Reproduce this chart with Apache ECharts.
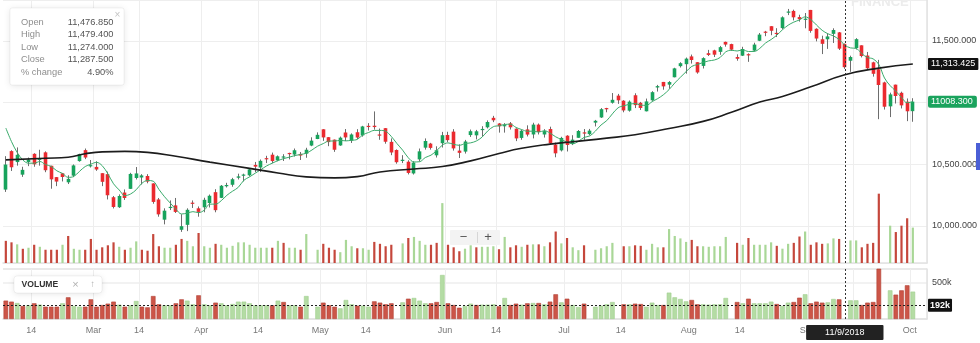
<!DOCTYPE html>
<html><head><meta charset="utf-8">
<script src="https://cdn.jsdelivr.net/npm/echarts@6/dist/echarts.min.js"></script>
<style>html,body{margin:0;padding:0;background:#fff}#c{width:980px;height:343px}</style>
</head><body><div id="c"></div>
<script>
const dates = [
'6/2/2018','7/2/2018','8/2/2018','9/2/2018','12/2/2018','14/2/2018','15/2/2018','16/2/2018','19/2/2018','20/2/2018','21/2/2018','22/2/2018','23/2/2018','26/2/2018','27/2/2018','28/2/2018',
'1/3/2018','5/3/2018','6/3/2018','7/3/2018','8/3/2018','9/3/2018','12/3/2018','13/3/2018','14/3/2018','15/3/2018','16/3/2018','19/3/2018','20/3/2018','21/3/2018','22/3/2018','23/3/2018','26/3/2018','27/3/2018','28/3/2018',
'2/4/2018','3/4/2018','4/4/2018','5/4/2018','6/4/2018','9/4/2018','10/4/2018','11/4/2018','12/4/2018','13/4/2018','16/4/2018','17/4/2018','18/4/2018','19/4/2018','20/4/2018','23/4/2018','24/4/2018','25/4/2018','26/4/2018','27/4/2018','30/4/2018',
'2/5/2018','3/5/2018','4/5/2018','7/5/2018','8/5/2018','9/5/2018','10/5/2018','11/5/2018','14/5/2018','15/5/2018','16/5/2018','17/5/2018','18/5/2018','21/5/2018','22/5/2018','23/5/2018','24/5/2018','25/5/2018','28/5/2018','29/5/2018','30/5/2018','31/5/2018',
'1/6/2018','4/6/2018','5/6/2018','6/6/2018','7/6/2018','8/6/2018','11/6/2018','12/6/2018','13/6/2018','14/6/2018','15/6/2018','18/6/2018','19/6/2018','20/6/2018','21/6/2018','22/6/2018','25/6/2018','26/6/2018','27/6/2018','28/6/2018','29/6/2018',
'2/7/2018','3/7/2018','4/7/2018','5/7/2018','6/7/2018','9/7/2018','10/7/2018','11/7/2018','12/7/2018','13/7/2018','16/7/2018','17/7/2018','18/7/2018','19/7/2018','20/7/2018','23/7/2018','24/7/2018','25/7/2018','26/7/2018','27/7/2018','30/7/2018','31/7/2018',
'1/8/2018','2/8/2018','3/8/2018','6/8/2018','7/8/2018','8/8/2018','9/8/2018','10/8/2018','13/8/2018','14/8/2018','16/8/2018','17/8/2018','20/8/2018','21/8/2018','23/8/2018','24/8/2018','27/8/2018','28/8/2018','29/8/2018','30/8/2018','31/8/2018',
'3/9/2018','4/9/2018','5/9/2018','6/9/2018','7/9/2018','10/9/2018','11/9/2018','12/9/2018','14/9/2018','17/9/2018','18/9/2018','19/9/2018','21/9/2018','24/9/2018','25/9/2018','26/9/2018','27/9/2018','28/9/2018',
'1/10/2018'];

const open = [
10295,10607,10518,10416,10519,10585,10537,10597,10488,10396,
10427,10354,10408,10526,10615,10488,10479,10428,10420,10233,
10152,10271,10301,10389,10393,10405,10345,10215,10051,10147,
10167,9969,10009,10189,10143,10151,10186,10274,10228,10322,
10334,10391,10410,10411,10495,10474,10550,10578,10532,10560,
10592,10579,10584,10586,10652,10705,10784,10720,10700,10653,
10758,10692,10760,10734,10812,10813,10742,10793,10682,10616,
10528,10521,10426,10540,10635,10668,10573,10671,10738,10765,
10611,10603,10737,10735,10781,10800,10877,10831,10809,10832,
10789,10714,10783,10742,10822,10742,10786,10660,10613,10732,
10665,10715,10759,10745,10838,10880,10956,10999,11057,11016,
10935,11060,10999,10930,11019,11123,11168,11146,11206,11296,
11312,11375,11328,11298,11401,11424,11412,11493,11475,11370,
11381,11393,11422,11502,11576,11620,11566,11605,11731,11744,
11694,11675,11752,11599,11514,11514,11558,11570,11476.85,11340,
11443,11465,11382,11327,11271,11164,10970,11146,11080,11008,
10931];

const high = [
10566,10614,10637,10480,10555,10590,10618,10605,10489,10397,
10429,10411,10499,10586,10628,10535,10525,10428,10441,10243,
10256,10296,10431,10478,10420,10420,10346,10227,10143,10207,
10227,10095,10143,10207,10158,10229,10255,10298,10332,10350,
10390,10424,10424,10469,10519,10539,10569,10595,10572,10582,
10594,10628,10600,10634,10719,10759,10785,10721,10701,10725,
10786,10751,10785,10812,10834,10929,10790,10794,10710,10621,
10574,10533,10525,10628,10710,10674,10646,10763,10764,10785,
10662,10698,10782,10779,10809,10856,10893,10835,10834,10843,
10792,10781,10816,10837,10831,10785,10805,10676,10723,10736,
10736,10778,10786,10787,10860,10956,10958,11078,11071,11020,
11018,11076,11006,11033,11093,11144,11168,11175,11283,11328,
11366,11390,11328,11368,11428,11429,11460,11495,11478,11392,
11453,11400,11486,11565,11582,11620,11604,11700,11760,11754,
11713,11727,11752,11603,11543,11562,11603,11573,11479.4,11381,
11523,11465,11411,11332,11347,11170,11081,11146,11089,11034,
11036];

const low = [
10276,10446,10489,10398,10485,10480,10489,10436,10302,10323,
10361,10340,10396,10521,10542,10474,10447,10323,10215,10142,
10146,10211,10300,10377,10336,10346,10180,10075,10013,10129,
10105,9952,9958,10146,10075,10111,10150,10111,10226,10312,
10318,10377,10361,10402,10436,10437,10510,10509,10525,10527,
10540,10563,10535,10553,10647,10704,10690,10647,10601,10650,
10689,10673,10705,10724,10774,10781,10699,10667,10574,10505,
10510,10418,10417,10522,10619,10619,10555,10636,10681,10611,
10551,10587,10722,10702,10725,10791,10842,10757,10757,10782,
10688,10699,10726,10710,10742,10717,10660,10557,10604,10604,
10656,10715,10699,10735,10807,10876,10922,10992,10990,10922,
10927,10956,10941,10929,11015,11090,11105,11113,11205,11285,
11235,11317,11235,11277,11378,11370,11388,11454,11420,11340,
11378,11331,11416,11499,11539,11547,11532,11595,11710,11667,
11657,11603,11567,11497,11394,11436,11484,11427,11274,11250,
11431,11367,11269,11211,10866,10944,10883,10993,10953,10850,
10845];

const close = [
10498,10476,10577,10455,10539,10500,10545,10452,10378,10360,
10397,10382,10491,10583,10555,10493,10458,10358,10249,10154,
10243,10227,10422,10426,10410,10360,10195,10094,10124,10155,
10114,9998,10131,10184,10114,10212,10245,10128,10326,10332,
10379,10402,10417,10459,10481,10528,10549,10526,10565,10564,
10585,10614,10571,10618,10692,10739,10718,10680,10618,10716,
10718,10742,10717,10807,10807.5,10802,10741,10683,10596,10517,
10537,10430,10514,10605,10689,10633,10614,10736,10696,10629,
10593,10685,10768.35,10767.65,10787,10843,10857,10808,10818,10800,
10710,10772,10741,10822,10762,10769,10671,10589,10714,10657,
10700,10770,10750,10773,10853,10947,10948,11023,11019,10937,
11008,10980,10957,11010,11085,11134,11132,11167,11278,11320,
11357,11346,11245,11361,11387,11389,11450,11471,11430,11356,
11435,11385,11471,11552,11571,11583,11557,11692,11739,11692,
11677,11681,11582,11520,11477,11537,11589,11438,11287.5,11370,
11515,11378,11279,11234,11143,10967,11067,11054,10978,10930,
11008.3];

// volume in thousands (null = no bar in the picture)
const volume = [
255,241,222,180,190,218,199,171,171,171,
218,301,180,171,171,273,171,194,213,241,
199,171,190,250,171,162,319,204,190,190,
218,273,255,204,329,204,190,227,218,190,
208,241,241,218,190,190,190,190,255,236,
190,190,171,319,null,171,227,190,171,148,
264,204,185,185,171,245,227,204,218,null,
231,282,292,255,218,218,236,611,218,194,
157,181,213,194,199,199,204,176,292,194,
213,199,218,222,222,204,241,343,231,282,
194,167,213,null,171,185,204,236,null,204,
204,213,208,171,227,194,194,366,301,278,
245,264,204,204,199,204,204,292,null,236,
218,282,218,218,218,241,208,181,227,236,
296,343,218,241,227,231,278,273,null,259,
259,194,227,236,700,null,398,338,398,468,
380];

// short moving average (green line), one value per candle
const ma5 = [
10794,10684,10596,10535,10509,10509,10523,10498,10483,10447,
10426,10394,10402,10443,10482,10501,10516,10489,10423,10342,
10292,10246,10259,10294,10346,10369,10363,10297,10237,10186,
10136,10097,10104,10116,10108,10128,10177,10177,10205,10249,
10282,10313,10371,10398,10428,10457,10487,10509,10530,10546,
10558,10571,10580,10590,10616,10647,10668,10689,10689,10694,
10690,10695,10702,10740,10758,10775,10775,10768,10726,10668,
10615,10553,10519,10521,10555,10574,10611,10655,10674,10662,
10654,10668,10674,10689,10720,10770,10805,10813,10823,10825,
10799,10782,10768,10769,10761,10773,10753,10723,10701,10680,
10666,10686,10718,10730,10769,10819,10854,10909,10958,10975,
10987,10993,10980,10978,11008,11033,11064,11106,11159,11206,
11251,11294,11309,11326,11339,11346,11366,11412,11425,11419,
11428,11415,11415,11440,11483,11512,11547,11591,11628,11653,
11671,11696,11674,11630,11587,11559,11541,11512,11466,11444,
11440,11398,11366,11355,11310,11200,11138,11093,11042,10999,
11007];

// long moving average (black line), read at these candle positions
const ma50Idx = [0,7,11,14,17,21,25,30,36,43,48,53,58,62,66,72,77,82,87,91,96,100,106,111,117,123,128,133,137,142,148,154,160];
const ma50Val = [10536,10549,10557,10585,10601,10605,10597,10565,10518,10467,10430,10398,10390,10400,10438,10462,10482,10528,10588,10630,10664,10683,10712,10740,10790,10848,10922,11005,11050,11128,11226,11280,11313.425];

const tickIdx = [5,16,24,35,45,56,64,78,87,99,109,121,130,142,150,160];
const tickText = ['14','Mar','14','Apr','14','May','14','Jun','14','Jul','14','Aug','14','Sep','14','Oct'];

const crossIdx = 148;
const cursorVolume = 192;
const pctChangeText = '4.90%';

const FONT = '"Liberation Sans", Arial, Helvetica, sans-serif';
const UP = '#17a35c', DOWN = '#eb2a2f';
const VUP = '#a9d797', VDOWN = '#c5473c';
const BUP = '#b4dca4', BDOWN = '#cc5548';
const NOLINE = 'rgba(0,0,0,0)';

const cats = dates.concat(['pad-a', 'pad-b']);
const tickSet = new Set(tickIdx);
const tickMap = {}; tickIdx.forEach((k, j) => tickMap[k] = tickText[j]);
const isTick = (idx) => tickSet.has(idx);

function volColor(i, up, down) {
  if (i === 0) return down;
  return close[i] >= close[i - 1] ? up : down;
}
const volMain = volume.map((v, i) => v === null ? null : { value: v, itemStyle: { color: volColor(i, VUP, VDOWN) } });
const volBottom = volume.map((v, i) => v === null ? null : { value: v, itemStyle: { color: volColor(i, BUP, BDOWN), borderColor: volColor(i, '#9fce8d', '#b23f34'), borderWidth: 0.6 } });
const candleData = open.map((o, i) => [i, o, close[i], low[i], high[i]]);
const ma50Data = ma50Idx.map((k, j) => [k, ma50Val[j]]);

function fmt3(v) { return v.toLocaleString('en-US', { minimumFractionDigits: 3, maximumFractionDigits: 3 }); }

function renderCandle(params, api) {
  const i = api.value(0), o = api.value(1), c = api.value(2), l = api.value(3), h = api.value(4);
  const po = api.coord([i, o]), pc = api.coord([i, c]), pl = api.coord([i, l]), ph = api.coord([i, h]);
  const wx = Math.round(po[0] - 0.5) + 0.5;
  const w = 3.6;
  const top = Math.min(po[1], pc[1]);
  const bh = Math.max(Math.abs(po[1] - pc[1]), 1.2);
  return {
    type: 'group',
    children: [
      { type: 'line', shape: { x1: wx, y1: ph[1], x2: wx, y2: pl[1] }, style: { stroke: '#6d6d6d', lineWidth: 1 } },
      { type: 'rect', shape: { x: wx - w / 2, y: top, width: w, height: bh }, style: { fill: c >= o ? UP : DOWN } }
    ]
  };
}

const chart = echarts.init(document.getElementById('c'), null, { renderer: 'canvas' });
const gridLine = '#eeeeee';
const borderLine = '#e2e2e2';
const txt = (text, x, y, opt) => Object.assign({ type: 'text', z: 100, style: Object.assign({ text, x, y, fill: '#888', fontSize: 9.3, fontFamily: FONT, textAlign: 'left', textVerticalAlign: 'middle', align: 'left', verticalAlign: 'middle' }, opt || {}) });

const tipRows = [
  ['Open', fmt3(open[crossIdx])],
  ['High', fmt3(high[crossIdx])],
  ['Low', fmt3(low[crossIdx])],
  ['Close', fmt3(close[crossIdx])],
  ['% change', pctChangeText]
];
const tipY = [22.3, 34.8, 47.2, 59.7, 72.2];
const graphicEls = [
  { type: 'rect', z: 99, shape: { x: 10, y: 8, width: 114, height: 77, r: 2 }, style: { fill: '#fff', stroke: 'rgba(0,0,0,0.05)', lineWidth: 1, shadowBlur: 7, shadowColor: 'rgba(0,0,0,0.10)', shadowOffsetY: 1 } },
  txt('\u00d7', 117.5, 15.5, { fill: '#c4c4c4', fontSize: 10, textAlign: 'center', align: 'center' })
];
tipRows.forEach((r, j) => {
  graphicEls.push(txt(r[0], 21, tipY[j], { fill: '#8e8e8e' }));
  graphicEls.push(txt(r[1], 113.5, tipY[j], { fill: '#555', textAlign: 'right', align: 'right' }));
});
graphicEls.push(
  { type: 'rect', z: 99, shape: { x: 14, y: 276, width: 88, height: 17, r: 3 }, style: { fill: '#fff', stroke: 'rgba(0,0,0,0.05)', shadowBlur: 6, shadowColor: 'rgba(0,0,0,0.10)', shadowOffsetY: 1 } },
  txt('VOLUME', 21.5, 284.7, { fill: '#333', fontSize: 8.6, fontWeight: 'bold' }),
  txt('\u00d7', 75.5, 284.5, { fill: '#b0b0b0', fontSize: 11, textAlign: 'center', align: 'center' }),
  txt('\u2191', 92.5, 284.5, { fill: '#b0b0b0', fontSize: 9.5, textAlign: 'center', align: 'center' }),
  { type: 'rect', z: 99, shape: { x: 450, y: 230, width: 50, height: 15, r: 1 }, style: { fill: 'rgba(242,242,242,0.95)' } },
  { type: 'line', z: 100, shape: { x1: 477.5, y1: 232, x2: 477.5, y2: 243 }, style: { stroke: '#d6d6d6', lineWidth: 1 } },
  txt('\u2212', 463.5, 237.5, { fill: '#555', fontSize: 13, textAlign: 'center', align: 'center' }),
  txt('+', 488, 237.5, { fill: '#555', fontSize: 13, textAlign: 'center', align: 'center' }),
  txt('FINANCE', 851, 2, { fill: '#ececec', fontSize: 13, fontWeight: 'bold' }),
  { type: 'rect', z: 100, shape: { x: 976, y: 143, width: 4, height: 27 }, style: { fill: '#4b5fd6' } }
);

const option = {
  animation: false,
  backgroundColor: '#fff',
  textStyle: { fontFamily: FONT },
  grid: [
    { left: 3, right: 53, top: 0, height: 263, outerBoundsMode: 'none', containLabel: false },
    { left: 3, right: 53, top: 269, height: 50, outerBoundsMode: 'none', containLabel: false }
  ],
  xAxis: [
    {
      type: 'category', gridIndex: 0, data: cats, boundaryGap: true,
      axisLine: { show: true, lineStyle: { color: borderLine, width: 1.5 } },
      axisTick: { show: false, interval: isTick },
      axisLabel: { show: false, interval: isTick },
      splitLine: { show: true, interval: isTick, lineStyle: { color: gridLine, width: 1 } }
    },
    {
      type: 'category', gridIndex: 1, data: cats, boundaryGap: true,
      axisLine: { show: true, lineStyle: { color: borderLine, width: 1.5 } },
      axisTick: { show: false, interval: isTick },
      axisLabel: {
        show: true, interval: isTick, formatter: (v, idx) => tickMap[idx] || '',
        fontSize: 9, color: '#777', margin: 7, padding: [0, 6, 0, 0], fontFamily: FONT, hideOverlap: false
      },
      splitLine: { show: true, interval: isTick, lineStyle: { color: gridLine, width: 1 } }
    }
  ],
  yAxis: [
    {
      type: 'value', gridIndex: 0, position: 'right', min: 9699.6, max: 11832.5, splitNumber: 4,
      axisLine: { show: true, lineStyle: { color: borderLine, width: 1.5 } },
      axisTick: { show: false },
      axisLabel: {
        fontSize: 9, color: '#444', margin: 5, fontFamily: FONT, showMinLabel: false, showMaxLabel: false,
        formatter: (v) => (v === 11000 ? '' : fmt3(v))
      },
      splitLine: { show: true, lineStyle: { color: gridLine, width: 1 } }
    },
    { type: 'value', gridIndex: 0, position: 'left', min: 46, max: 2527, show: false },
    {
      type: 'value', gridIndex: 1, position: 'right', min: 0, max: 694, interval: 500,
      axisLine: { show: true, lineStyle: { color: borderLine, width: 1.5 } },
      axisTick: { show: false },
      axisLabel: {
        fontSize: 9, color: '#444', margin: 5, fontFamily: FONT, showMinLabel: false, showMaxLabel: false,
        formatter: (v) => (v === 500 ? '500k' : '')
      },
      splitLine: { show: true, lineStyle: { color: [borderLine, gridLine, borderLine], width: 1.5 } }
    }
  ],
  series: [
    {
      name: 'vol-main', type: 'bar', xAxisIndex: 0, yAxisIndex: 1, data: volMain,
      barWidth: 2.2, z: 1, silent: true
    },
    {
      name: 'price', type: 'custom', xAxisIndex: 0, yAxisIndex: 0, data: candleData,
      encode: { x: 0, y: [1, 2, 3, 4] }, renderItem: renderCandle, z: 3, silent: true
    },
    {
      name: 'ma5', type: 'line', xAxisIndex: 0, yAxisIndex: 0, data: ma5, symbol: 'none',
      smooth: 0.35, lineStyle: { color: '#3aab6b', width: 1 }, z: 4, silent: true,
      markLine: {
        silent: true, symbol: ['none', 'none'], animation: false,
        data: [{
          yAxis: close[close.length - 1], lineStyle: { color: NOLINE, width: 1 },
          label: {
            show: true, position: 'end', distance: 1, formatter: close[close.length - 1].toFixed(3),
            backgroundColor: '#1aa35d', color: '#fff', fontSize: 9, fontFamily: FONT, padding: [1.5, 4, 1.5, 3], borderRadius: 2
          }
        }]
      }
    },
    {
      name: 'ma50', type: 'line', xAxisIndex: 0, yAxisIndex: 0, data: ma50Data, symbol: 'none',
      smooth: 0.5, connectNulls: true, lineStyle: { color: '#1c1c1c', width: 1.6 }, z: 5, silent: true,
      markLine: {
        silent: true, symbol: ['none', 'none'], animation: false,
        data: [
          {
            yAxis: ma50Val[ma50Val.length - 1], lineStyle: { color: NOLINE, width: 1 },
            label: {
              show: true, position: 'end', distance: 1, formatter: fmt3(ma50Val[ma50Val.length - 1]),
              backgroundColor: '#111', color: '#fff', fontSize: 9, fontFamily: FONT, padding: [1.5, 3, 1.5, 3], borderRadius: 1
            }
          },
          {
            xAxis: dates[crossIdx], lineStyle: { color: '#333', width: 1, type: [2, 2] },
            label: { show: false }
          }
        ]
      }
    },
    {
      name: 'vol-bottom', type: 'bar', xAxisIndex: 1, yAxisIndex: 2, data: volBottom,
      barWidth: 4.6, z: 2, silent: true,
      markLine: {
        silent: true, symbol: ['none', 'none'], animation: false,
        data: [
          {
            yAxis: cursorVolume, lineStyle: { color: '#222', width: 1, type: [2, 2] },
            label: {
              show: true, position: 'end', distance: 1, formatter: cursorVolume + 'k',
              backgroundColor: '#111', color: '#fff', fontSize: 9, fontWeight: 'bold', fontFamily: FONT, padding: [2, 2, 2, 2], borderRadius: 1
            }
          },
          {
            xAxis: dates[crossIdx], lineStyle: { color: '#333', width: 1, type: [2, 2] },
            label: {
              show: true, position: 'start', distance: 6, formatter: dates[crossIdx],
              backgroundColor: '#222', color: '#fff', fontSize: 9, fontFamily: FONT, padding: [3, 19, 3, 19], borderRadius: 1
            }
          }
        ]
      }
    }
  ],
  graphic: { elements: graphicEls }
};
chart.setOption(option);
</script>
</body></html>
